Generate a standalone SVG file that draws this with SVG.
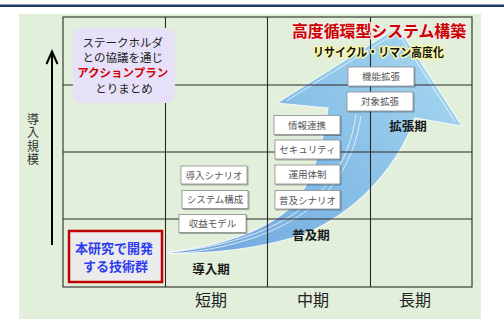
<svg xmlns="http://www.w3.org/2000/svg" width="504" height="324" viewBox="0 0 504 324">
  <defs>
    <linearGradient id="arrowFill" x1="160" y1="250" x2="460" y2="30" gradientUnits="userSpaceOnUse">
      <stop offset="0" stop-color="#6ea3dc"/>
      <stop offset="0.5" stop-color="#86bde6"/>
      <stop offset="1" stop-color="#a9daf1"/>
    </linearGradient>
    <filter id="boxShadow" x="-10%" y="-20%" width="130%" height="160%">
      <feDropShadow dx="1" dy="1" stdDeviation="0.6" flood-color="#000" flood-opacity="0.35"/>
    </filter>
  </defs>
  <style>
    .jp { font-family: "Noto Sans CJK JP", "Noto Sans", sans-serif; }
    .grid { stroke: #2a2a2a; stroke-width: 1.1; fill: none; }
    .tag rect { fill: #ffffff; stroke: #8a8a8a; stroke-width: 0.8; filter: url(#boxShadow); }
    .tag text { font-size: 9.5px; fill: #555; text-anchor: middle; }
    .phase { font-size: 12.5px; font-weight: bold; fill: #1a1a1a; text-anchor: middle; }
    .term { font-size: 16px; fill: #222; text-anchor: middle; }
    .glint { fill: none; stroke: #ffffff; stroke-opacity: 0.8; stroke-width: 0.9; }
    .vlabel { writing-mode: vertical-rl; font-size: 12px; letter-spacing: 1.5px; fill: #333; text-anchor: middle; }
  </style>

  <!-- page frame -->
  <rect x="0" y="0" width="504" height="324" fill="#ffffff"/>
  <rect x="0" y="4.5" width="504" height="2.5" fill="#1f3864"/>
  <rect x="19" y="14" width="462" height="305" fill="#e2efda"/>

  <!-- growth arrow -->
  <g id="growth-arrow">
    <path d="M163,253 C215,247 262,233 290,208 C310,188 322,150 328,108 L277,103 L398,27 L462,126 L415,118 C395,175 345,222 292,238 C250,250 205,254 163,253 Z"
          fill="url(#arrowFill)" stroke="#ffffff" stroke-opacity="0.75" stroke-width="1.2"/>
    <path class="glint" d="M287,100.5 L397.5,32 L455,121.5"/>
    <path class="glint" d="M170,252 C240,246 300,222 330,180 C345,160 352,140 356,115"/>
    <path class="glint" d="M172,254 C244,248 304,225 334,183 C349,163 357,142 361,116"/>
  </g>

  <!-- time / scale grid -->
  <g id="grid">
    <rect class="grid" x="63" y="17" width="409" height="270"/>
    <line class="grid" x1="165.5" y1="17" x2="165.5" y2="287"/>
    <line class="grid" x1="267.5" y1="17" x2="267.5" y2="287"/>
    <line class="grid" x1="370.5" y1="17" x2="370.5" y2="287"/>
    <line class="grid" x1="63" y1="85" x2="472" y2="85"/>
    <line class="grid" x1="63" y1="152" x2="472" y2="152"/>
    <line class="grid" x1="63" y1="219" x2="472" y2="219"/>
  </g>

  <!-- vertical axis -->
  <g id="axis-scale">
    <line x1="52" y1="52" x2="52" y2="245" stroke="#000" stroke-width="2"/>
    <polyline points="46.5,64 52,51.5 57.5,64" fill="none" stroke="#000" stroke-width="2"/>
    <text class="jp vlabel" x="33" y="140">導入規模</text>
  </g>

  <!-- horizontal axis terms -->
  <g id="axis-terms" class="jp">
    <text class="term" x="211" y="306">短期</text>
    <text class="term" x="313" y="306">中期</text>
    <text class="term" x="415" y="306">長期</text>
  </g>

  <!-- phase labels -->
  <g id="phase-labels" class="jp">
    <text class="phase" x="211" y="274">導入期</text>
    <text class="phase" x="311" y="240">普及期</text>
    <text class="phase" x="408" y="131">拡張期</text>
  </g>

  <!-- goal heading -->
  <g id="goal" class="jp">
    <text x="379" y="37" font-size="16" font-weight="bold" fill="#cc0000" text-anchor="middle"
          textLength="174" lengthAdjust="spacingAndGlyphs"
          stroke="#f6eaea" stroke-width="2.5" paint-order="stroke" stroke-linejoin="round">高度循環型システム構築</text>
    <text x="378.5" y="57" font-size="12" font-weight="bold" fill="#111" text-anchor="middle"
          textLength="131" lengthAdjust="spacingAndGlyphs"
          stroke="#fbf7a8" stroke-width="3" paint-order="stroke" stroke-linejoin="round">リサイクル・リマン高度化</text>
  </g>

  <!-- introduction-phase items -->
  <g id="intro-scenario" class="tag jp">
    <rect x="181" y="166" width="66" height="18"/>
    <text x="214" y="178.5">導入シナリオ</text>
  </g>
  <g id="system-config" class="tag jp">
    <rect x="182" y="190.5" width="66" height="18"/>
    <text x="215" y="203">システム構成</text>
  </g>
  <g id="revenue-model" class="tag jp">
    <rect x="179" y="214.5" width="67" height="18"/>
    <text x="212.5" y="227">収益モデル</text>
  </g>

  <!-- diffusion-phase items -->
  <g id="info-link" class="tag jp">
    <rect x="274" y="115.5" width="66" height="19"/>
    <text x="307" y="128.5">情報連携</text>
  </g>
  <g id="security" class="tag jp">
    <rect x="275" y="140" width="65" height="19"/>
    <text x="307.5" y="153">セキュリティ</text>
  </g>
  <g id="operation" class="tag jp">
    <rect x="275" y="165" width="65" height="19"/>
    <text x="307.5" y="178">運用体制</text>
  </g>
  <g id="diffusion-scenario" class="tag jp">
    <rect x="275" y="190.5" width="65" height="18.5"/>
    <text x="307.5" y="203.5">普及シナリオ</text>
  </g>

  <!-- expansion-phase items -->
  <g id="function-ext" class="tag jp">
    <rect x="348" y="67" width="66" height="19"/>
    <text x="381" y="80">機能拡張</text>
  </g>
  <g id="target-ext" class="tag jp">
    <rect x="347" y="92" width="66" height="19"/>
    <text x="380" y="105">対象拡張</text>
  </g>

  <!-- stakeholder note -->
  <g id="stakeholder-note" class="jp">
    <rect x="73" y="28" width="102" height="75" rx="9" fill="#e6e0f8"/>
    <text font-size="11.5" fill="#222" text-anchor="middle">
      <tspan x="124" y="46.5">ステークホルダ</tspan>
      <tspan x="124" y="61.5">との協議を通じ</tspan>
      <tspan x="124" y="77" fill="#d00000" font-weight="bold">アクションプラン</tspan>
      <tspan x="124" y="92.5">とりまとめ</tspan>
    </text>
  </g>

  <!-- developed technologies -->
  <g id="developed-tech" class="jp">
    <rect x="69" y="231" width="93" height="51" fill="#ebebeb" stroke="#c00000" stroke-width="2.5"/>
    <text font-size="13" font-weight="bold" fill="#2f3cf0" text-anchor="middle">
      <tspan x="115.5" y="253">本研究で開発</tspan>
      <tspan x="115.5" y="270.5">する技術群</tspan>
    </text>
  </g>
</svg>
